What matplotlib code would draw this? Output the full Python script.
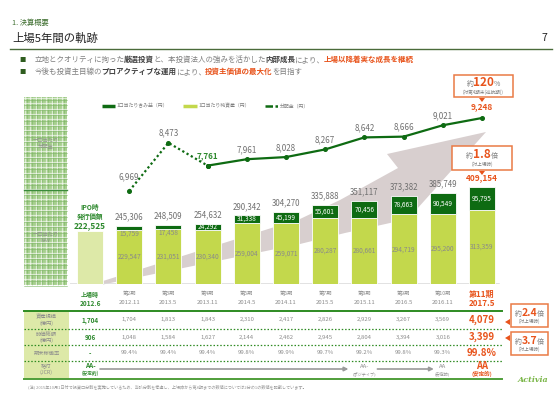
import numpy as np
import matplotlib
matplotlib.use("Agg")
import matplotlib.pyplot as plt
from matplotlib.patches import Rectangle, Polygon

plt.rcParams['font.family'] = ['Noto Sans CJK JP', 'DejaVu Sans']

# ---- data
periods = ['上場時', '第2期', '第3期', '第4期', '第5期', '第6期', '第7期', '第8期', '第9期', '第10期', '第11期']
dates = ['2012.6', '2012.11', '2013.5', '2013.11', '2014.5', '2014.11', '2015.5', '2015.11', '2016.5', '2016.11', '2017.5']
nav = [222525, 229547, 231051, 230340, 259004, 259071, 280287, 280661, 294719, 295200, 313359]
gain = [0, 15759, 17458, 24292, 31338, 45199, 55601, 70456, 78663, 90549, 95795]
dist = [6969, 8473, 7761, 7961, 8028, 8267, 8642, 8666, 9021, 9248]   # 第2期..第11期
assets = [1704, 1704, 1813, 1843, 2310, 2417, 2826, 2929, 3267, 3569, 4079]
mcap = [906, 1048, 1584, 1627, 2144, 2462, 2945, 2804, 3394, 3016, 3399]
occupancy = [None, 99.4, 99.4, 99.4, 99.8, 99.9, 99.7, 99.2, 99.8, 99.3, 99.8]
rating_idx = [0, 7, 9, 10]
rating = ['AA-', 'AA-', 'AA', 'AA']
outlook = ['(安定的)', '(ポジティブ)', '(安定的)', '(安定的)']

DG = '#0e6b12'
LG = '#c3d84c'
PALE = '#dde9a8'
OR = '#e8541c'
GR = '#7f7f7f'
TG = '#2f8a2f'

fig = plt.figure(figsize=(5.6, 3.96), dpi=100)
fig.patch.set_facecolor('white')

# background / overlay axes in pixel coordinates
bg = fig.add_axes([0, 0, 1, 1])
bg.set_xlim(0, 560)
bg.set_ylim(396, 0)
bg.axis('off')

# chart axes
ax = fig.add_axes([70 / 560, (396 - 284) / 396, 432 / 560, 184 / 396])
ax.set_xlim((70 - 90) / 39.2, (502 - 90) / 39.2)
ytop = 184 * 4235
ax.set_ylim(0, ytop)
ax.axis('off')
ax.patch.set_visible(False)
ax2 = ax.twinx()
ax2.set_ylim(4065, 9810)
ax2.axis('off')

renderer = fig.canvas.get_renderer()


def rich(x, y, parts, ha='left', va='baseline', tight=0.8):
    ts = [bg.text(0, y, s, ha='left', va=va, **kw) for s, kw in parts]
    ws = [t.get_window_extent(renderer).width - tight for t in ts]
    start = x - sum(ws) / 2 if ha == 'center' else x
    for t, w in zip(ts, ws):
        t.set_x(start)
        start += w
    return ts


# ---- header
bg.text(12, 23, '1. 決算概要', fontsize=5.2, color='#3f6f30', va='center')
bg.text(12, 38, '上場5年間の軌跡', fontsize=8.2, color='#222222', va='center')
bg.text(547, 38, '7', fontsize=7.5, color='#222222', va='center', ha='right')
bg.plot([10, 552], [49, 49], color='#4a6b3a', lw=1.0)

g = dict(fontsize=5.4, color=GR)
b = dict(fontsize=5.4, color='#404040', weight='bold')
o = dict(fontsize=5.4, color=OR, weight='bold')
for yy in (60, 72):
    bg.text(22, yy, '■', fontsize=4.5, color='#2f5d1f', va='center', ha='center')
rich(35, 62, [('立地とクオリティに拘った', g), ('厳選投資', b), ('と、本投資法人の強みを活かした', g),
              ('内部成長', b), ('により、', g), ('上場以降着実な成長を継続', o)])
rich(35, 74, [('今後も投資主目線の', g), ('プロアクティブな運用', b), ('により、', g),
              ('投資主価値の最大化', o), ('を目指す', g)])

# ---- legend
leg = dict(fontsize=3.5, color=GR, va='center')
bg.plot([102, 115], [106, 106], color=DG, lw=2.5, solid_capstyle='butt')
bg.text(117, 106, '1口当たり含み益（円）', **leg)
bg.plot([183, 197], [106, 106], color=LG, lw=2.5, solid_capstyle='butt')
bg.text(199, 106, '1口当たり純資産（円）', **leg)
bg.plot([265, 278], [106, 106], color=DG, lw=1.8, ls=(0, (3, 1, 1, 1)))
bg.text(280, 106, '分配金（円）', **leg)

# ---- plaid side panel
bg.add_patch(Rectangle((24, 97), 43, 188, facecolor='#a6cf8e', edgecolor='none', zorder=0))
for xx in np.arange(25, 67, 5.33):
    bg.plot([xx, xx], [97, 285], color='white', lw=0.9, alpha=0.6, zorder=0.5)
    bg.plot([xx + 1.5, xx + 1.5], [97, 285], color='#7db565', lw=0.4, zorder=0.5)
for yy in np.arange(98, 285, 5.33):
    bg.plot([24, 67], [yy, yy], color='white', lw=0.9, alpha=0.6, zorder=0.5)
    bg.plot([24, 67], [yy + 1.5, yy + 1.5], color='#7db565', lw=0.4, zorder=0.5)
bg.plot([24, 67], [190, 190], color='#3a8a3a', lw=1.0, zorder=0.6)
bg.text(45.5, 143, '一口当たり\n分配金', fontsize=3.8, color='#8f948c', ha='center', va='center',
        linespacing=1.3, zorder=1)
bg.text(45.5, 237, '一口当たり\nNAV', fontsize=3.8, color='#8f948c', ha='center', va='center',
        linespacing=1.3, zorder=1)

# ---- big growth arrow behind the bars
arrow = [(103, 284.5), (300, 244), (345, 233), (408, 219), (486, 132), (387, 154),
         (398, 168), (340, 200), (300, 219), (103, 281)]
bg.add_patch(Polygon(arrow, closed=True, facecolor='#d8cfcf', edgecolor='none', zorder=0.2))

# ---- bars
x = np.arange(len(periods))
W = 0.66
ax.bar(x, nav, width=W, color=[PALE] + [LG] * 10, edgecolor='white', linewidth=0.6, zorder=2)
ax.bar(x[1:], gain[1:], bottom=nav[1:], width=W, color=DG, edgecolor='white', linewidth=0.6, zorder=2)
ax.axhline(0, color='#d9d9d9', lw=1.8, zorder=1, xmin=0, xmax=0.99)

upx = ytop / 184.0  # value units per pixel
for i in range(1, len(x)):
    tot = nav[i] + gain[i]
    ax.text(i, nav[i] / 2, f'{nav[i]:,}', fontsize=4.7, color='#8a8a8a', ha='center', va='center', zorder=3)
    h = gain[i] / upx
    if h >= 5:
        ax.text(i, nav[i] + gain[i] / 2, f'{gain[i]:,}', fontsize=4.7, color='white',
                ha='center', va='center', zorder=3)
    else:
        ax.annotate(f'{gain[i]:,}', (i, tot), xytext=(0, -5.5), textcoords='offset points',
                    fontsize=4.7, color='#8a8a8a', ha='center', va='center', zorder=3)
    last = i == len(x) - 1
    ax.annotate(f'{tot:,}', (i, tot), xytext=(0, 7.2 if last else 6.5), textcoords='offset points',
                fontsize=6.0 if last else 5.7, color=OR if last else '#707070',
                weight='bold' if last else 'normal', ha='center', va='center', zorder=3)

ax.annotate(f'{nav[0]:,}', (0, nav[0]), xytext=(0, 4.3), textcoords='offset points',
            fontsize=6.0, color=TG, weight='bold', ha='center', va='center')
ax.annotate('IPO時\n発行価額', (0, nav[0]), xytext=(0, 14), textcoords='offset points',
            fontsize=4.8, color=TG, weight='bold', ha='center', va='center', linespacing=1.25)

# ---- distribution line
xd = x[1:]
ax2.plot(xd[:3], dist[:3], ls=(0, (1, 1.2)), color=DG, lw=1.6, marker='o', ms=2.6, zorder=4)
ax2.plot(xd[2:], dist[2:], ls='-', color=DG, lw=1.6, marker='o', ms=2.6, zorder=4)
for k, (xx, v) in enumerate(zip(xd, dist)):
    last = k == len(dist) - 1
    if last:
        kw = dict(fontsize=6.0, color=OR, weight='bold')
    elif k == 2:
        kw = dict(fontsize=5.8, color=TG, weight='bold')
    else:
        kw = dict(fontsize=5.8, color='#707070')
    off = 10 if k == 0 else (8 if last else 7)
    ax2.annotate(f'{v:,}', (xx, v), xytext=(0, off), textcoords='offset points',
                 ha='center', va='center', zorder=5, **kw)


# ---- callouts
def callout(x0, y0, x1, y1, big, pre, post, sub, pointer, size=8.5):
    bg.add_patch(Rectangle((x0, y0), x1 - x0, y1 - y0, facecolor='white', edgecolor='#ea7a45',
                           lw=1.1, zorder=3))
    cx = (x0 + x1) / 2
    ts = rich(cx, y0 + (y1 - y0) * 0.52, [(pre, dict(fontsize=5, color=GR)),
                                          (big, dict(fontsize=size, color=OR, weight='bold')),
                                          (post, dict(fontsize=5, color=GR))], ha='center', tight=0)
    for tt in ts:
        tt.set_zorder(4)
    bg.text(cx, y0 + (y1 - y0) * 0.77, sub, fontsize=3.3, color=GR, ha='center', va='center', zorder=4)
    bg.add_patch(Polygon(pointer, closed=True, facecolor=OR, edgecolor='none', zorder=4))


callout(454, 75, 513, 97, '120', '約', '%', '(対第4期末(巡航期))', [(479, 98), (485, 98), (482, 102)])
callout(452, 146, 512, 170, '1.8', '約', '倍', '(対上場時)', [(479, 171), (485, 171), (482, 175)])
callout(511, 304, 548, 327, '2.4', '約', '倍', '(対上場時)', [(510, 319), (510, 325), (505, 322)], size=7.5)
callout(511, 332, 548, 355, '3.7', '約', '倍', '(対上場時)', [(510, 335), (510, 341), (505, 338)], size=7.5)

# ---- table
fig.canvas.draw()
cols = [ax.transData.transform((i, 0))[0] for i in x]
L, R = 24, 502
bg.add_patch(Rectangle((L, 311), 45, 68, facecolor=PALE, edgecolor='none', zorder=0.5))
bg.plot([L, R], [311, 311], color='#2e8b22', lw=1.4)
bg.plot([L, R], [379, 379], color='#4f9e3a', lw=1.4)
for yy in (329, 345, 361):
    bg.plot([L, R], [yy, yy], color='#2e8b22', lw=0.9, ls=(0, (1.2, 1.5)))

labels = ['資産規模\n(億円)', '時価総額\n(億円)', '期末稼働率', '格付\n(JCR)']
row_y = [320, 337, 353, 369]
for lab, yy in zip(labels, row_y):
    bg.text(46.5, yy, lab, fontsize=3.8, color='#8c8c8c', ha='center', va='center', linespacing=1.25)

occ_txt = ['-' if v is None else f'{v:.1f}%' for v in occupancy]
for i, cx in enumerate(cols):
    first, last = i == 0, i == len(cols) - 1
    if first:
        hk = dict(color=TG, weight='bold', fontsize=4.3)
        dk = dict(color=TG, weight='bold', fontsize=4.7)
        vk = dict(color=TG, weight='bold', fontsize=4.6)
    elif last:
        hk = dict(color=OR, weight='bold', fontsize=5.8)
        dk = dict(color=OR, weight='bold', fontsize=5.8)
        vk = dict(color=OR, weight='bold', fontsize=7.0)
    else:
        hk = dict(color='#8c8c8c', fontsize=3.8)
        dk = dict(color='#8c8c8c', fontsize=4.3)
        vk = dict(color='#8c8c8c', fontsize=4.3)
    bg.text(cx, 294, periods[i], ha='center', va='center', **hk)
    bg.text(cx, 303, dates[i], ha='center', va='center', **dk)
    bg.text(cx, row_y[0], f'{assets[i]:,}', ha='center', va='center', **vk)
    bg.text(cx, row_y[1], f'{mcap[i]:,}', ha='center', va='center', **vk)
    bg.text(cx, row_y[2], occ_txt[i], ha='center', va='center', **vk)

for i, r, ol in zip(rating_idx, rating, outlook):
    cx = cols[i]
    if i == 0:
        c, wgt, s1, s2 = TG, 'bold', 4.6, 3.3
    elif i == len(cols) - 1:
        c, wgt, s1, s2 = OR, 'bold', 6.8, 4.0
    else:
        c, wgt, s1, s2 = '#8c8c8c', 'normal', 4.3, 3.0
    bg.text(cx, 366, r, fontsize=s1, color=c, weight=wgt, ha='center', va='center')
    bg.text(cx, 373.5, ol, fontsize=s2, color=c, weight=wgt, ha='center', va='center')

arr = dict(arrowstyle='-|>', color='#9a9a9a', lw=1.2, mutation_scale=6, shrinkA=0, shrinkB=0)
bg.annotate('', xy=(cols[7] - 16, 369), xytext=(cols[0] + 10, 369), arrowprops=arr)
bg.annotate('', xy=(cols[9] - 9, 369), xytext=(cols[7] + 13, 369), arrowprops=arr)

bg.text(28, 387, '(注) 2015年10月1日付で投資口分割を実施しているため、当該分割を考慮し、'
                 '上場時から第8期までの数値については2分の1の数値を記載しています。',
        fontsize=3.0, color='#9a9a9a', va='center')
bg.text(533, 380, 'Activia', fontsize=5.8, color='#7ab648', style='italic', weight='bold',
        family='DejaVu Serif', ha='center', va='center')

fig.savefig('out.png', dpi=100)
